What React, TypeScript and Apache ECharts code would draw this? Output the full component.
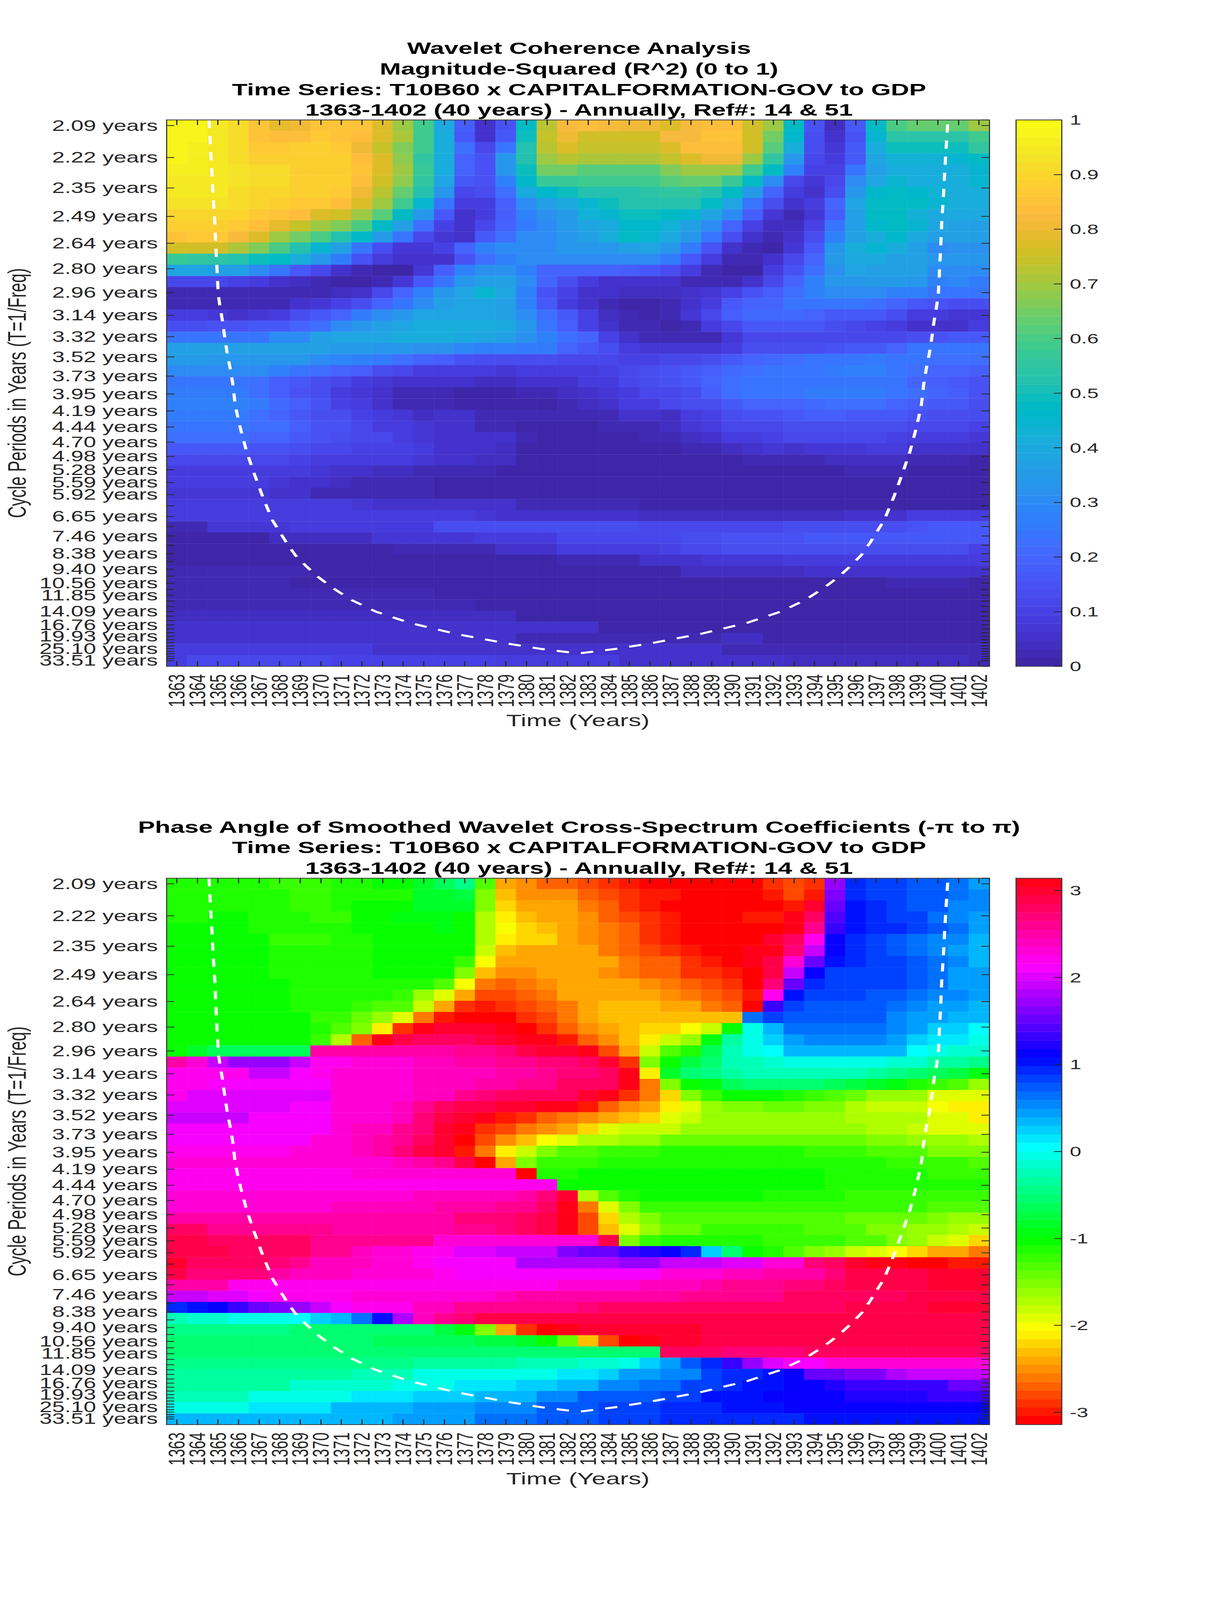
import React, { useEffect, useRef } from "react";
import * as echarts from "echarts";

const years = ["1363","1364","1365","1366","1367","1368","1369","1370","1371","1372","1373","1374","1375","1376","1377","1378","1379","1380","1381","1382","1383","1384","1385","1386","1387","1388","1389","1390","1391","1392","1393","1394","1395","1396","1397","1398","1399","1400","1401","1402"];
const periodYears = [2.0944,2.2189,2.3509,2.4907,2.6388,2.7957,2.962,3.1381,3.3247,3.5224,3.7318,3.9537,4.1888,4.4379,4.7018,4.9813,5.2775,5.5914,5.9238,6.2761,6.6493,7.0447,7.4636,7.9074,8.3776,8.8758,9.4036,9.9628,10.5552,11.1828,11.8478,12.5523,13.2987,14.0895,14.9273,15.8149,16.7553,17.7516,18.8072,19.9255,21.1104,22.3657,23.6957,25.1047,26.5975,28.1791,29.8547,31.63,33.5103];
const labelledPeriods = [2.0944,2.2189,2.3509,2.4907,2.6388,2.7957,2.962,3.1381,3.3247,3.5224,3.7318,3.9537,4.1888,4.4379,4.7018,4.9813,5.2775,5.5914,5.9238,6.6493,7.4636,8.3776,9.4036,10.5552,11.8478,14.0895,16.7553,19.9255,25.1047,33.5103];

// magnitude-squared coherence, in percent, one row per period, top row first
const coherenceRows = [
[98,98,95,91,85,79,81,85,85,85,77,70,58,40,18,5,15,47,72,82,83,82,81,80,78,82,84,84,76,70,47,15,4,17,47,60,64,64,64,70],
[98,97,94,91,85,84,84,87,85,84,78,71,58,42,16,5,17,50,74,80,76,76,76,76,82,82,85,85,76,65,46,13,5,15,45,54,54,54,54,59],
[98,96,94,91,87,87,88,89,87,81,74,66,58,42,22,12,25,52,72,78,74,74,74,74,78,83,84,84,76,62,41,14,7,16,42,50,50,50,50,55],
[98,96,94,91,89,89,89,89,88,84,77,68,56,42,20,15,33,52,70,72,71,71,71,71,74,77,80,80,70,55,33,12,8,16,38,43,43,43,44,47],
[96,96,95,93,91,91,89,89,88,85,78,70,57,42,20,15,33,50,65,65,62,62,62,62,66,70,70,70,58,47,28,10,10,25,37,42,42,42,42,45],
[95,95,95,93,91,91,89,89,88,84,76,68,55,38,16,15,28,46,57,57,58,58,58,58,61,63,64,57,47,30,12,7,12,30,38,44,42,42,42,44],
[95,95,94,92,90,90,88,88,86,80,72,64,53,33,12,13,22,40,46,49,52,52,53,54,56,56,53,47,35,20,9,5,14,33,46,48,46,43,42,42],
[93,93,93,92,90,89,87,86,84,78,69,58,45,25,8,9,18,30,37,40,44,49,52,53,53,53,47,38,24,13,5,8,20,38,47,48,48,44,42,42],
[90,90,90,90,87,85,84,78,76,70,62,48,33,16,6,8,18,28,32,35,43,44,49,50,48,45,39,30,18,7,3,7,18,36,47,47,43,40,40,40],
[89,89,89,86,83,79,75,70,66,60,47,36,22,10,5,12,20,26,30,35,38,40,46,46,43,37,30,20,10,4,4,10,24,37,46,48,45,38,37,37],
[85,86,86,82,77,70,65,60,53,46,35,24,12,7,5,16,23,30,30,33,37,42,47,45,40,34,24,14,5,2,5,14,28,37,42,46,40,36,36,36],
[76,76,76,71,67,60,52,45,36,24,13,7,7,10,20,28,31,31,31,33,33,34,36,38,33,26,15,6,2,1,7,17,33,42,44,42,37,30,32,32],
[57,56,54,53,50,48,42,33,26,15,8,5,5,6,15,22,28,30,30,31,30,31,31,31,26,17,8,3,2,6,12,20,35,40,40,37,37,33,33,33],
[38,38,37,36,30,24,17,11,6,3,1,1,7,18,27,32,32,28,20,20,20,19,18,17,14,8,3,1,1,8,15,22,32,38,37,37,36,31,31,31],
[12,12,12,10,8,6,4,2,0,0,2,7,16,25,33,36,36,30,19,13,8,5,5,5,5,3,2,2,5,12,20,28,33,34,35,35,33,28,29,26],
[3,2,2,2,2,2,2,3,4,6,12,20,28,33,38,44,38,28,15,10,6,5,4,4,4,5,7,10,15,18,22,28,31,31,31,28,28,25,25,25],
[2,2,2,2,3,3,5,7,10,14,20,25,30,37,39,39,36,27,17,9,6,3,1,1,3,6,9,16,19,20,25,25,25,24,22,19,17,15,13,13],
[9,9,7,6,7,9,14,16,20,26,30,34,38,38,38,38,37,30,22,16,10,4,3,1,3,7,12,18,21,21,21,20,17,17,17,13,9,8,7,7],
[14,14,15,15,17,17,20,23,30,33,36,38,41,41,41,41,40,34,25,18,10,5,3,2,1,3,8,12,16,16,16,16,14,12,10,8,6,5,6,8],
[24,24,24,24,25,30,31,36,38,39,39,41,41,41,40,39,37,32,28,22,20,10,5,3,3,2,2,7,11,12,12,12,12,12,12,11,13,15,16,17],
[36,36,36,36,37,37,37,37,35,35,34,34,32,32,29,27,27,26,26,19,16,13,8,7,7,7,7,9,13,13,13,13,15,16,17,19,24,25,25,25],
[35,35,34,34,34,33,33,31,29,27,26,23,20,18,15,14,14,13,13,12,12,11,10,10,11,12,13,17,20,21,23,24,25,25,26,25,24,23,23,22],
[31,31,31,31,30,27,25,22,20,18,14,11,9,8,8,8,7,8,8,8,9,10,12,13,15,17,18,21,22,24,25,25,26,27,28,24,22,20,20,18],
[24,24,24,24,22,18,17,13,12,9,7,6,5,5,5,4,4,5,5,6,8,9,12,14,15,17,19,23,24,24,25,25,25,25,25,24,20,18,16,15],
[26,26,26,26,23,18,15,14,8,7,6,3,2,2,1,1,1,2,3,4,5,7,8,11,12,14,18,22,24,24,25,26,26,26,26,24,22,19,18,15],
[27,27,27,27,26,21,18,15,10,8,6,3,2,2,1,1,1,1,1,3,4,5,8,9,11,13,14,17,20,20,20,21,22,22,23,20,18,17,17,14],
[26,26,26,26,23,20,17,14,13,10,8,7,4,5,5,3,2,2,2,2,2,3,5,6,4,8,10,14,15,15,16,18,18,17,17,16,15,14,14,13],
[24,25,25,25,23,22,18,15,15,12,9,9,7,5,5,3,2,1,1,1,1,2,2,3,4,7,8,11,12,12,14,14,14,14,13,13,11,11,11,10],
[22,22,22,22,20,19,17,15,14,11,11,9,7,5,6,5,5,2,1,1,1,1,1,2,3,4,6,8,9,10,11,12,12,12,11,10,9,8,8,7],
[17,17,17,17,15,15,14,12,12,10,10,10,8,6,5,5,4,1,1,1,1,1,1,1,1,2,2,4,5,7,6,7,7,7,8,8,6,6,6,6],
[12,12,12,12,11,11,10,9,9,9,9,9,7,6,5,4,4,1,1,1,1,1,1,1,1,1,1,1,2,2,2,3,4,4,4,4,3,3,3,1],
[9,9,9,9,8,8,8,7,6,6,4,4,3,3,2,2,1,1,1,1,1,1,1,1,1,1,1,1,1,1,1,1,1,2,2,2,0,0,0,0],
[8,8,8,8,8,7,6,6,4,3,2,2,2,1,1,0,0,0,0,0,0,0,0,0,0,0,0,0,0,0,0,0,0,0,1,1,0,0,0,0],
[7,7,7,7,7,6,6,3,3,3,2,2,2,1,1,1,1,0,0,0,0,0,0,0,0,0,0,0,0,0,0,0,0,0,0,0,0,0,0,0],
[9,9,8,8,8,8,8,8,8,7,6,6,6,5,5,5,5,3,3,3,3,3,3,0,0,0,0,0,0,0,0,0,0,0,0,0,0,1,1,1],
[9,9,9,9,9,8,8,8,8,8,8,8,8,8,8,7,6,6,6,6,6,6,6,4,4,4,4,4,4,4,4,4,4,6,6,6,8,8,9,9],
[3,3,7,7,7,7,9,9,9,9,9,9,9,13,13,13,13,13,13,13,13,13,13,12,12,12,12,12,12,12,13,13,14,14,14,14,15,16,16,16],
[1,1,1,1,1,4,4,4,4,4,7,7,7,7,7,9,9,9,9,11,11,11,12,12,12,13,13,15,15,15,15,16,16,16,16,17,17,17,17,17],
[0,0,0,0,0,0,1,1,1,1,1,3,3,3,3,3,6,6,6,8,8,8,9,9,10,11,11,13,13,13,13,13,14,14,14,14,14,14,14,10],
[0,0,0,0,0,0,0,0,0,0,0,0,0,0,0,0,0,0,0,3,3,3,3,5,5,5,7,7,7,7,8,8,8,8,8,8,8,8,8,8],
[2,2,2,2,2,2,2,0,0,0,0,0,0,0,0,0,0,0,0,0,0,0,0,0,0,4,4,4,4,4,4,6,6,6,6,6,6,6,6,6],
[3,3,3,3,3,3,1,1,1,1,1,0,0,0,0,0,0,0,0,0,0,0,0,0,0,0,0,0,0,0,0,0,0,0,0,2,2,2,2,0],
[3,3,3,3,3,3,3,3,2,2,2,2,2,0,0,0,0,0,0,0,0,0,0,0,0,0,0,0,0,0,0,0,0,0,0,0,0,0,0,0],
[3,3,3,3,3,3,3,3,3,3,3,3,3,3,3,0,0,0,0,0,0,0,0,0,0,0,0,0,0,0,0,0,0,0,0,0,0,0,0,0],
[4,4,4,4,4,4,4,4,4,4,4,4,4,4,4,4,4,0,0,0,0,0,0,0,0,0,0,0,0,0,0,0,0,0,0,0,0,0,0,0],
[5,5,5,5,5,5,5,5,5,5,5,5,6,5,5,5,5,5,5,5,5,1,1,1,1,1,1,1,1,1,1,1,1,1,1,1,1,1,1,1],
[6,6,6,6,6,6,6,6,6,5,5,5,5,5,5,5,5,3,3,3,3,3,3,3,3,3,3,4,4,1,1,1,1,1,1,1,1,1,1,1],
[8,8,8,8,8,8,8,8,8,8,6,6,6,6,6,6,6,6,6,6,6,6,6,6,6,6,6,3,3,3,3,3,3,3,3,3,3,3,3,3],
[9,11,11,11,11,11,11,11,10,10,10,10,10,10,10,10,8,8,8,8,8,8,6,6,6,6,6,6,6,6,4,4,4,4,4,4,4,4,4,3],
];

// phase angle, in degrees, one row per period, top row first
const phaseRows = [
[-66,-66,-66,-66,-66,-72,-72,-72,-66,-66,-60,-60,-45,-35,-25,-78,-140,-145,-152,-152,-160,-165,-170,-175,-180,-180,-180,-180,-175,-165,-158,-165,98,55,48,48,45,40,35,28],
[-66,-66,-66,-66,-66,-66,-72,-72,-66,-62,-62,-62,-45,-45,-40,-85,-130,-142,-145,-145,-152,-158,-165,-172,-172,-178,-178,-175,-175,-170,-162,-170,92,55,50,50,45,42,35,30],
[-64,-64,-64,-64,-64,-64,-70,-70,-64,-60,-58,-58,-45,-45,-50,-88,-125,-138,-140,-140,-147,-152,-165,-170,-175,-175,-180,-178,-178,-175,-170,172,90,60,55,50,45,40,32,32],
[-66,-66,-60,-60,-62,-64,-64,-68,-68,-60,-60,-55,-55,-52,-60,-100,-120,-130,-135,-135,-142,-152,-158,-165,-170,-176,-176,-180,-174,-174,178,162,84,60,53,50,50,38,30,24],
[-60,-60,-60,-60,-62,-62,-64,-64,-64,-60,-58,-58,-58,-55,-60,-100,-118,-127,-130,-135,-142,-147,-155,-165,-172,-177,-177,-180,-180,-180,175,150,75,60,55,52,48,40,34,28],
[-60,-60,-60,-60,-60,-68,-68,-68,-62,-62,-57,-57,-57,-57,-60,-100,-122,-128,-128,-135,-142,-147,-157,-167,-172,-178,-178,-180,-180,172,158,125,65,52,48,42,38,32,30,20],
[-60,-60,-60,-60,-60,-62,-62,-66,-62,-62,-58,-58,-58,-58,-60,-105,-130,-135,-135,-135,-135,-147,-152,-160,-165,-170,-175,-175,180,178,155,108,62,55,50,45,38,32,28,20],
[-60,-60,-60,-60,-60,-64,-64,-64,-64,-64,-60,-60,-60,-60,-72,-118,-135,-140,-135,-135,-140,-140,-147,-152,-157,-165,-172,-178,178,165,135,85,60,52,48,48,40,35,30,20],
[-60,-60,-60,-60,-60,-64,-64,-64,-64,-64,-60,-60,-60,-60,-85,-132,-145,-145,-140,-140,-140,-142,-147,-152,-157,-165,-165,-170,-180,165,112,62,50,50,48,48,40,34,28,28],
[-60,-60,-60,-60,-60,-60,-64,-64,-64,-64,-64,-67,-67,-78,-118,-150,-155,-150,-142,-140,-140,-140,-140,-146,-150,-155,-160,-165,-175,155,85,55,50,50,50,50,40,34,28,28],
[-60,-60,-60,-60,-60,-60,-64,-64,-64,-64,-64,-70,-90,-110,-140,-160,-160,-152,-150,-140,-135,-135,-135,-135,-142,-148,-155,-160,-172,125,60,50,48,48,42,42,38,32,30,26],
[-60,-60,-60,-60,-60,-60,-64,-64,-64,-70,-75,-78,-105,-140,-165,-172,-165,-160,-155,-147,-137,-132,-132,-132,-140,-140,-147,-152,-178,75,50,45,42,42,42,36,30,26,26,20],
[-60,-60,-60,-60,-60,-60,-60,-68,-72,-80,-92,-110,-150,-172,-178,-178,-178,-165,-160,-150,-138,-132,-132,-132,-132,-132,-132,-132,35,50,42,42,42,42,42,33,28,24,20,20],
[-60,-60,-60,-60,-60,-60,-60,-64,-75,-88,-120,-165,175,172,172,172,178,-178,-165,-155,-143,-135,-130,-124,-124,-118,-105,-60,-5,22,37,37,37,37,37,30,24,12,12,5],
[-60,-60,-60,-60,-60,-60,-60,-70,-100,-155,175,168,160,160,160,165,170,175,178,-172,-155,-145,-132,-122,-105,-90,-55,-22,-3,15,25,33,33,33,33,28,15,10,8,0],
[-60,-45,-35,-35,-35,-35,-38,145,145,145,145,145,145,145,150,150,157,165,170,174,178,-160,-140,-105,-78,-62,-35,-15,-5,5,18,18,18,18,18,18,3,-5,-10,-10],
[142,132,108,98,98,98,107,127,127,130,132,132,138,138,142,142,148,148,155,155,163,170,-165,-88,-60,-42,-30,-12,-12,-8,0,0,0,0,0,-8,-8,-18,-22,-28],
[125,125,125,125,110,110,120,125,130,132,132,132,136,138,138,138,142,146,150,152,156,162,178,-120,-50,-30,-25,-18,-15,-15,-15,-15,-15,-15,-18,-28,-32,-38,-40,-52],
[125,125,122,122,122,122,122,122,132,132,132,132,137,137,137,145,145,150,150,158,158,158,178,-150,-88,-60,-55,-35,-32,-30,-30,-30,-35,-42,-50,-55,-65,-68,-75,-90],
[125,118,118,118,118,118,118,118,130,130,130,130,140,140,148,155,158,158,162,162,170,178,-165,-150,-125,-85,-70,-60,-60,-60,-62,-68,-75,-82,-90,-90,-95,-108,-108,-110],
[115,115,115,115,115,115,122,122,130,130,135,140,150,160,165,165,172,172,178,178,-172,-155,-145,-135,-122,-108,-95,-85,-85,-82,-82,-88,-88,-98,-103,-103,-105,-115,-120,-120],
[110,110,110,110,122,122,122,122,130,130,135,140,155,165,170,175,-170,-165,-155,-150,-145,-140,-132,-125,-112,-105,-95,-90,-90,-90,-90,-95,-95,-98,-100,-100,-100,-110,-112,-120],
[120,120,120,120,120,120,122,122,132,140,140,148,157,170,177,-165,-158,-150,-142,-135,-125,-112,-105,-102,-102,-95,-92,-92,-92,-92,-92,-92,-92,-92,-98,-98,-102,-108,-112,-112],
[122,122,122,122,122,122,122,130,130,140,145,150,160,170,-178,-160,-145,-130,-118,-110,-100,-100,-90,-90,-80,-80,-80,-80,-80,-80,-80,-80,-80,-80,-85,-85,-90,-90,-95,-100],
[125,125,125,125,125,125,130,130,130,140,145,155,165,172,-172,-150,-122,-105,-88,-78,-78,-70,-70,-70,-62,-62,-62,-62,-62,-62,-62,-68,-68,-68,-75,-75,-75,-85,-85,-85],
[130,130,130,130,130,130,130,130,130,132,135,140,145,150,165,-178,-140,-85,-72,-70,-70,-65,-62,-62,-62,-62,-62,-62,-62,-62,-62,-65,-65,-65,-65,-70,-70,-72,-72,-75],
[128,128,128,128,128,128,128,128,128,130,130,130,130,130,130,130,135,-178,-62,-62,-60,-60,-60,-60,-60,-60,-60,-60,-60,-60,-60,-60,-64,-64,-64,-64,-66,-68,-68,-68],
[126,126,126,126,126,126,126,126,126,126,126,126,126,126,126,126,126,126,128,-60,-60,-60,-60,-60,-60,-60,-60,-60,-60,-60,-60,-60,-64,-64,-64,-66,-66,-66,-66,-66],
[130,130,130,130,130,130,130,130,130,130,130,130,138,138,138,138,140,146,155,170,-100,-78,-65,-60,-60,-60,-60,-60,-60,-62,-64,-64,-64,-68,-68,-68,-68,-72,-72,-72],
[130,130,135,135,135,135,135,135,137,137,137,137,140,145,145,145,150,150,160,175,-150,-110,-85,-72,-68,-68,-68,-68,-68,-68,-68,-68,-68,-70,-72,-72,-72,-75,-76,-78],
[142,142,142,142,142,142,145,145,145,145,145,145,145,145,152,152,155,160,166,178,-160,-125,-100,-85,-78,-76,-75,-75,-75,-75,-75,-76,-78,-80,-80,-80,-82,-88,-90,-95],
[158,158,150,150,150,150,150,150,145,145,145,145,145,145,150,150,155,160,165,178,-162,-132,-108,-92,-80,-80,-72,-72,-72,-72,-72,-78,-78,-78,-88,-88,-95,-95,-100,-105],
[165,165,158,158,158,158,158,150,150,150,150,150,150,135,135,135,135,135,135,130,130,165,-85,-68,-65,-65,-65,-65,-65,-68,-68,-70,-70,-78,-78,-85,-95,-105,-112,-128],
[168,168,168,160,160,160,160,150,150,138,135,135,125,125,115,115,112,108,108,95,90,85,78,72,65,52,15,-30,-60,-65,-78,-85,-92,-105,-110,-118,-125,-135,-140,-150],
[170,163,163,163,163,155,150,140,140,140,130,130,125,120,120,120,120,105,105,105,105,105,100,100,108,108,108,115,115,130,135,155,160,170,178,178,-178,-178,-170,-170],
[165,155,155,155,155,145,140,140,140,135,130,130,130,125,120,120,120,120,120,120,120,120,120,120,130,130,130,138,138,142,145,145,155,165,165,165,168,172,172,172],
[145,145,145,128,128,128,128,128,128,128,128,128,125,125,125,125,125,125,125,130,130,130,135,140,140,140,142,148,148,150,155,155,158,165,165,165,168,170,170,170],
[108,108,118,118,122,125,125,125,125,130,130,130,135,135,135,135,140,142,142,142,142,145,145,145,145,150,150,150,150,150,160,160,160,160,162,162,168,168,168,168],
[55,60,65,75,85,95,100,110,120,125,125,125,140,140,148,148,150,150,150,150,155,158,158,158,158,160,162,162,162,162,162,162,162,164,164,164,165,170,172,172],
[-15,-8,-8,-5,-5,0,5,15,22,38,60,105,140,150,155,165,165,168,168,168,168,168,168,168,168,168,168,168,168,168,168,168,168,168,168,168,168,168,168,168],
[-28,-28,-28,-28,-28,-28,-32,-32,-32,-32,-32,-32,-32,-40,-55,-88,-135,-165,-178,176,174,172,172,170,170,170,168,168,168,168,168,166,166,166,166,166,166,166,166,166],
[-30,-30,-30,-30,-30,-30,-30,-30,-30,-30,-38,-38,-38,-38,-38,-42,-42,-50,-60,-80,-130,-160,-180,175,170,170,165,165,165,165,165,165,165,164,164,164,164,164,164,164],
[-32,-32,-32,-32,-32,-32,-32,-32,-32,-32,-32,-32,-32,-32,-32,-32,-32,-32,-32,-32,-32,-32,-32,-32,162,162,160,155,155,155,155,160,160,160,160,160,160,160,160,160],
[-25,-25,-25,-25,-25,-25,-25,-25,-25,-25,-25,-25,-20,-20,-20,-20,-20,-15,-15,-15,-10,-10,0,15,28,40,55,75,100,115,122,122,130,135,135,135,135,135,135,135],
[-20,-17,-17,-17,-17,-17,-17,-17,-17,-12,-12,-12,-5,-5,-5,-5,-5,0,0,8,8,15,25,25,33,33,50,55,55,60,65,85,90,95,95,105,110,110,110,110],
[-18,-18,-18,-18,-18,-18,-8,-8,-8,-8,-8,-5,-5,-3,8,8,8,15,15,22,22,30,30,38,38,48,48,52,60,60,62,62,70,75,75,78,78,78,85,90],
[-14,-14,-14,-14,0,0,0,0,0,6,6,6,15,15,15,22,22,22,32,32,40,40,45,45,50,50,58,58,58,62,62,64,64,70,70,70,70,75,75,78],
[0,0,0,0,10,10,10,10,18,18,18,18,26,26,26,33,33,33,40,40,40,47,47,47,52,52,56,58,58,60,62,62,64,64,64,64,64,64,64,64],
[18,18,18,18,18,18,18,22,22,22,22,28,28,28,28,34,34,34,42,42,42,48,48,48,52,52,52,55,55,55,55,58,58,58,58,58,58,58,58,60],
];

// cone of influence, in column and row units of the image
const coiColumns = [2.07,2.14,2.21,2.27,2.35,2.4,2.46,2.52,2.61,2.73,2.84,2.95,3.1,3.22,3.35,3.6,3.9,4.28,4.69,5.15,5.49,5.83,6.25,6.78,7.38,8.1,9,10.18,11.81,14.08,16.54,18.24,20.03,21.8,23.5,25.96,28.23,29.86,31.04,31.94,32.66,33.26,33.79,34.21,34.55,34.89,35.35,35.76,36.14,36.44,36.69,36.82,36.94,37.09,37.2,37.31,37.43,37.52,37.58,37.64,37.69,37.77,37.83,37.9,37.99];
const coiRows = [0,2.52,4.71,6.91,9.1,11.3,13.5,15.7,16.8,18.1,19.6,20.9,22.3,23.6,25.67,27.7,29.76,31.8,33.85,35.9,36.9,37.9,39,40,41,42,43.06,44.1,45.1,46.1,46.95,47.45,47.85,47.45,46.95,46.1,45.1,44.1,43.06,42,41,40,39,37.9,36.9,35.9,33.85,31.8,29.76,27.7,25.67,23.6,22.3,20.9,19.6,18.1,16.8,15.7,13.5,11.3,9.1,6.91,4.71,2.52,0];

const parula = [[.2422,.1504,.6603],[.2504,.165,.7076],[.2578,.1818,.7511],[.2647,.1978,.7952],[.2706,.2147,.8364],[.2751,.2342,.871],[.2783,.2559,.8991],[.2803,.2782,.9221],[.2813,.3006,.9414],[.281,.3228,.9579],[.2795,.3447,.9717],[.276,.3667,.9829],[.2699,.3892,.9906],[.2602,.4123,.9952],[.244,.4358,.9988],[.2206,.4603,.9973],[.1963,.4847,.9892],[.1834,.5074,.9798],[.1786,.5289,.9682],[.1764,.5499,.952],[.1687,.5703,.9359],[.154,.5902,.9218],[.146,.6091,.9079],[.138,.6276,.8973],[.1248,.6459,.8883],[.1113,.6635,.8763],[.0952,.6798,.8598],[.0689,.6948,.8394],[.0297,.7082,.8163],[.0036,.7203,.7917],[.0067,.7312,.766],[.0433,.7411,.7394],[.0964,.75,.712],[.1408,.7584,.6842],[.1717,.767,.6554],[.1938,.7758,.6251],[.2161,.7843,.5923],[.247,.7918,.5567],[.2906,.7973,.5188],[.3406,.8008,.4789],[.3909,.8029,.4354],[.4456,.8024,.3909],[.5044,.7993,.348],[.5616,.7942,.3045],[.6174,.7876,.2612],[.672,.7793,.2227],[.7242,.7698,.191],[.7738,.7598,.1646],[.8203,.7498,.1535],[.8634,.7406,.1596],[.9035,.733,.1774],[.9393,.7288,.21],[.9728,.7298,.2394],[.9956,.7434,.2371],[.997,.7659,.2199],[.9952,.7893,.2028],[.9892,.8136,.1885],[.9786,.8386,.1766],[.9676,.8639,.1643],[.961,.889,.1537],[.9597,.9135,.1423],[.9628,.9373,.1265],[.9691,.9606,.1064],[.9769,.9839,.0805]].map(([r, g, b]) => `rgb(${Math.round(r * 255)},${Math.round(g * 255)},${Math.round(b * 255)})`);
const hsv = Array.from({ length: 64 }, (_, i) => `hsl(${(i / 64) * 360},100%,50%)`);

const TEXT = "#262626";
const LINE = "#3f3f3f";
const FONT = "Liberation Sans";
const PAGE_W = 3125, PAGE_H = 6252;
const PLOT_LEFT = 426, PLOT_W = 2106, PLOT_H = 2135;
const CB_LEFT = 2600, CB_W = 117;
const TOP_1 = 468.5, TOP_2 = 3431.5;
// frequency at the top and bottom edge of the image, per year
const F_TOP = 0.48217, F_BOTTOM = 0.02504;

const titles1 = ["Wavelet Coherence Analysis", "Magnitude-Squared (R^2) (0 to 1)", "Time Series: T10B60 x CAPITALFORMATION-GOV to GDP", "1363-1402 (40 years) - Annually, Ref#: 14 & 51"];
const titles2 = ["Phase Angle of Smoothed Wavelet Cross-Spectrum Coefficients (-π to π)", "Time Series: T10B60 x CAPITALFORMATION-GOV to GDP", "1363-1402 (40 years) - Annually, Ref#: 14 & 51"];
const titleY1 = [188, 269, 350, 430];
const titleY2 = [3231, 3311, 3392];

function pieces(colors: string[], lo: number, hi: number) {
  return colors.map((color, i) => ({ min: lo + ((hi - lo) * i) / 64, max: lo + ((hi - lo) * (i + 1)) / 64, color }));
}
function levelCells(lo: number, hi: number) {
  return Array.from({ length: 64 }, (_, i) => [0, i, lo + ((hi - lo) * (i + 0.5)) / 64]);
}
const boxLine = { show: true, onZero: false, lineStyle: { color: LINE, width: 3 } };
const tickStyle = { color: "#262626", width: 3 };

function App() {
  const ref = useRef<HTMLDivElement>(null);
  // the window may be shorter than the figure: fit its height to what is visible
  const fit = Math.min(1, window.innerHeight / PAGE_H);
  useEffect(() => {
    document.body.style.margin = "0";
    [...coherenceRows, ...phaseRows].forEach((r, i) => {
      if (r.length !== 40) throw new Error("row " + i + " has " + r.length);
    });
    const chart = echarts.init(ref.current!, undefined, { renderer: "svg" });
    const grid: any[] = [], xAxis: any[] = [], yAxis: any[] = [], series: any[] = [], visualMap: any[] = [];
    // the axis ends are placeholders: ECharts drops the end labels and ticks, so no real one is lost to its overlap rule
    const allT = [F_TOP, ...periodYears.map((t) => 1 / t), F_BOTTOM];
    const labelled = [F_TOP, ...labelledPeriods.map((t) => 1 / t), F_BOTTOM];
    const rowNames = periodYears.map((t) => t.toFixed(2));
    const coi = coiColumns.map((c, i) => [c, coiRows[i]]);

    const addPlot = (top: number, cells: number[][], colors: string[], lo: number, hi: number, cbTicks: number[]) => {
      const g = grid.length;
      grid.push({ left: PLOT_LEFT, top, width: PLOT_W, height: PLOT_H });
      const x0 = xAxis.length, y0 = yAxis.length;
      xAxis.push(
        { gridIndex: g, type: "category", position: "bottom", data: years, z: 6, name: "Time (Years)", nameLocation: "middle", nameGap: 179, nameTextStyle: { color: TEXT, fontFamily: FONT, fontSize: 65 },
          axisLine: boxLine, axisTick: { show: true, alignWithLabel: true, inside: true, length: 20, lineStyle: tickStyle },
          axisLabel: { show: true, interval: 0, rotate: 90, margin: 31, color: TEXT, fontFamily: FONT, fontSize: 58 } },
        { gridIndex: g, type: "category", position: "top", data: years, z: 6, axisLine: boxLine, axisTick: { show: true, alignWithLabel: true, inside: true, length: 20, lineStyle: tickStyle }, axisLabel: { show: false } },
        { gridIndex: g, type: "value", min: 0, max: 40, show: false }
      );
      yAxis.push(
        { gridIndex: g, type: "value", position: "left", min: F_BOTTOM, max: F_TOP, z: 6, name: "Cycle Periods in Years (T=1/Freq)", nameLocation: "middle", nameGap: 350, nameTextStyle: { color: TEXT, fontFamily: FONT, fontSize: 65 },
          splitLine: { show: false }, axisLine: boxLine,
          axisTick: { show: true, inside: true, length: 20, lineStyle: tickStyle, customValues: allT },
          axisLabel: { show: true, color: TEXT, fontFamily: FONT, fontSize: 58, margin: 22, customValues: labelled, showMinLabel: false, showMaxLabel: false, hideOverlap: false,
            formatter: (v: number) => (v === F_TOP || v === F_BOTTOM ? "" : (1 / v).toFixed(2) + " years") } },
        { gridIndex: g, type: "value", position: "right", min: F_BOTTOM, max: F_TOP, z: 6, splitLine: { show: false }, axisLine: boxLine,
          axisTick: { show: true, inside: true, length: 20, lineStyle: tickStyle, customValues: allT }, axisLabel: { show: false } },
        { gridIndex: g, type: "category", data: rowNames, inverse: true, show: false },
        { gridIndex: g, type: "value", min: 0, max: 49, inverse: true, show: false }
      );
      const heatIndex = series.length;
      series.push({ type: "heatmap", xAxisIndex: x0, yAxisIndex: y0 + 2, data: cells, silent: true, z: 2, emphasis: { disabled: true } });
      series.push({ type: "line", xAxisIndex: x0 + 2, yAxisIndex: y0 + 3, data: coi, showSymbol: false, symbol: "none", silent: true, z: 4, lineStyle: { color: "#ffffff", width: 8, type: [32, 31], cap: "butt" } });

      const cg = grid.length;
      grid.push({ left: CB_LEFT, top, width: CB_W, height: PLOT_H });
      const cx0 = xAxis.length, cy0 = yAxis.length;
      xAxis.push(
        { gridIndex: cg, type: "category", position: "bottom", data: [""], z: 6, axisLine: boxLine, axisTick: { show: false }, axisLabel: { show: false } },
        { gridIndex: cg, type: "category", position: "top", data: [""], z: 6, axisLine: boxLine, axisTick: { show: false }, axisLabel: { show: false } }
      );
      yAxis.push(
        { gridIndex: cg, type: "category", position: "left", data: colors.map((_, i) => String(i)), z: 6, axisLine: boxLine, axisTick: { show: false }, axisLabel: { show: false } },
        { gridIndex: cg, type: "value", position: "right", min: lo, max: hi, z: 6, splitLine: { show: false }, axisLine: boxLine,
          axisTick: { show: true, inside: true, length: 20, lineStyle: tickStyle, customValues: cbTicks },
          axisLabel: { show: true, color: TEXT, fontFamily: FONT, fontSize: 53, margin: 21, customValues: cbTicks, showMinLabel: true, showMaxLabel: true, hideOverlap: false, formatter: (v: number) => String(Math.round(v * 10) / 10) } }
      );
      const cbIndex = series.length;
      series.push({ type: "heatmap", xAxisIndex: cx0, yAxisIndex: cy0, data: levelCells(lo, hi), silent: true, z: 2, emphasis: { disabled: true } });
      visualMap.push({ type: "piecewise", show: false, seriesIndex: [heatIndex, cbIndex], dimension: 2, pieces: pieces(colors, lo, hi) });
    };

    addPlot(TOP_1, coherenceRows.flatMap((r, ri) => r.map((v, ci) => [ci, ri, v / 100])), parula, 0, 1, [0, 0.1, 0.2, 0.3, 0.4, 0.5, 0.6, 0.7, 0.8, 0.9, 1]);
    addPlot(TOP_2, phaseRows.flatMap((r, ri) => r.map((v, ci) => [ci, ri, (v * Math.PI) / 180])), hsv, -Math.PI, Math.PI, [-3, -2, -1, 0, 1, 2, 3]);

    const titleEls = (lines: string[], ys: number[]) =>
      lines.map((text, i) => ({ type: "text", x: 1482, y: ys[i], silent: true, style: { text, fill: "#000", textAlign: "center", textVerticalAlign: "middle", font: `bold 65px "${FONT}"` } }));

    chart.setOption({
      animation: false,
      backgroundColor: "#ffffff",
      grid, xAxis, yAxis, series, visualMap,
      graphic: [...titleEls(titles1, titleY1), ...titleEls(titles2, titleY2)],
    });
    return () => chart.dispose();
  }, []);
  return (
    <div style={{ width: PAGE_W, height: PAGE_H * fit, overflow: "hidden" }}>
      <div ref={ref} style={{ width: PAGE_W, height: PAGE_H, transform: `scale(1, ${fit})`, transformOrigin: "0 0" }} />
    </div>
  );
}

export default App;
